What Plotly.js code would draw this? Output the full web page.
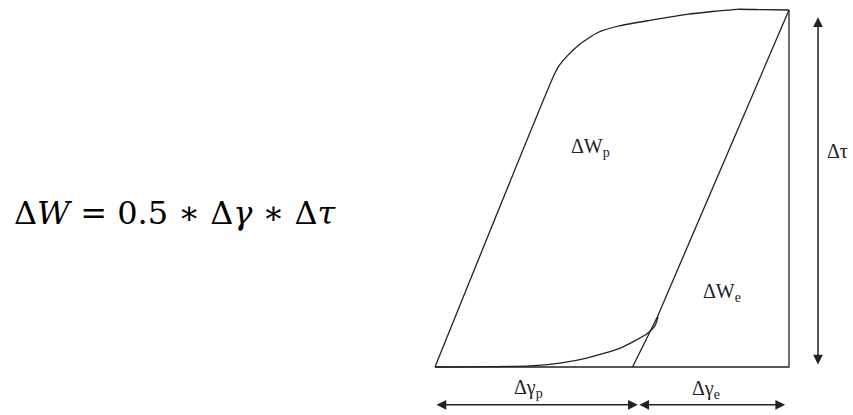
<!DOCTYPE html>
<html>
<head>
<meta charset="utf-8">
<script src="https://cdn.plot.ly/plotly-3.0.1.min.js"></script>
<style>
  html, body { margin: 0; padding: 0; background: #fff; }
  #chart { width: 853px; height: 415px; }
</style>
</head>
<body>
<div id="chart"></div>
<script>
// Hysteresis loop, normalised: gamma 0..1 = total strain range, tau 0..1 = stress range
// loading branch (left edge + rounded top)
const loadGamma = [0, 0.335, 0.352, 0.375, 0.410, 0.460, 0.523, 0.607, 0.712, 0.853, 0.918, 1];
const loadTau   = [0, 0.815, 0.846, 0.873, 0.905, 0.937, 0.956, 0.971, 0.988, 1.002, 1.001, 1];

// unloading line from the top right corner down to the base
const unloadGamma = [1, 0.628, 0.558];
const unloadTau   = [1, 0.140, 0];

// reloading tail along the bottom
const reloadGamma = [0, 0.268, 0.353, 0.429, 0.523, 0.599, 0.621, 0.630];
const reloadTau   = [0, 0.003, 0.011, 0.025, 0.053, 0.093, 0.115, 0.140];

// enclosing box (base and right side)
const boxGamma = [0, 1, 1];
const boxTau   = [0, 0, 1];

// dimension arrows
const gammaPlastic = 0.573;   // split point between the two strain arrows
const arrowRow = -0.106;      // tau level of the strain arrows
const tauArrowGamma = 1.082;
const tauArrowSpan = [0.003, 0.98];

const labels = [
  { text: 'ΔW<sub>p</sub>', g: 0.438, t: 0.615 },
  { text: 'ΔW<sub>e</sub>', g: 0.811, t: 0.208 },
  { text: 'Δγ<sub>p</sub>', g: 0.263, t: -0.059 },
  { text: 'Δγ<sub>e</sub>', g: 0.766, t: -0.063 },
  { text: 'Δτ', g: 1.138, t: 0.604 }
];

const ink = '#222';
const serif = 'Liberation Serif, Tinos, Times New Roman, Times, DejaVu Serif, serif';
const lineStyle = { color: ink, width: 1.3 };

const traces = [
  { x: loadGamma, y: loadTau, mode: 'lines', line: Object.assign({ shape: 'spline', smoothing: 0.5 }, lineStyle), hoverinfo: 'skip' },
  { x: unloadGamma, y: unloadTau, mode: 'lines', line: lineStyle, hoverinfo: 'skip' },
  { x: reloadGamma, y: reloadTau, mode: 'lines', line: Object.assign({ shape: 'spline', smoothing: 0.6 }, lineStyle), hoverinfo: 'skip' },
  { x: boxGamma, y: boxTau, mode: 'lines', line: lineStyle, hoverinfo: 'skip' }
];

function dimArrow(x0, y0, x1, y1) {
  return {
    x: x1, y: y1, ax: x0, ay: y0,
    xref: 'x', yref: 'y', axref: 'x', ayref: 'y',
    text: '', showarrow: true,
    arrowside: 'end+start', arrowhead: 2, arrowsize: 1.3, arrowwidth: 1.5,
    arrowcolor: ink, standoff: 0, startstandoff: 0
  };
}

const annotations = [
  dimArrow(0, arrowRow, gammaPlastic, arrowRow),
  dimArrow(gammaPlastic, arrowRow, 0.989, arrowRow),
  dimArrow(tauArrowGamma, tauArrowSpan[0], tauArrowGamma, tauArrowSpan[1])
];

labels.forEach(l => annotations.push({
  x: l.g, y: l.t, xref: 'x', yref: 'y', text: l.text, showarrow: false,
  font: { family: serif, size: 20, color: ink }
}));

annotations.push({
  x: 12 / 853, y: 0.487, xref: 'paper', yref: 'paper', xanchor: 'left', yanchor: 'middle',
  text: 'Δ<i>W</i> = 0.5 ∗ Δ<i>γ</i> ∗ Δ<i>τ</i>', showarrow: false,
  font: { family: 'DejaVu Serif, serif', size: 32, color: '#000' }
});

const layout = {
  width: 853, height: 415,
  margin: { l: 0, r: 0, t: 0, b: 0 },
  paper_bgcolor: '#fff', plot_bgcolor: '#fff',
  showlegend: false,
  xaxis: { range: [-1.22881, 1.18079], visible: false, fixedrange: true },
  yaxis: { range: [-0.13445, 1.02801], visible: false, fixedrange: true },
  annotations: annotations
};

Plotly.newPlot('chart', traces, layout, { displayModeBar: false, staticPlot: true });
</script>
</body>
</html>
